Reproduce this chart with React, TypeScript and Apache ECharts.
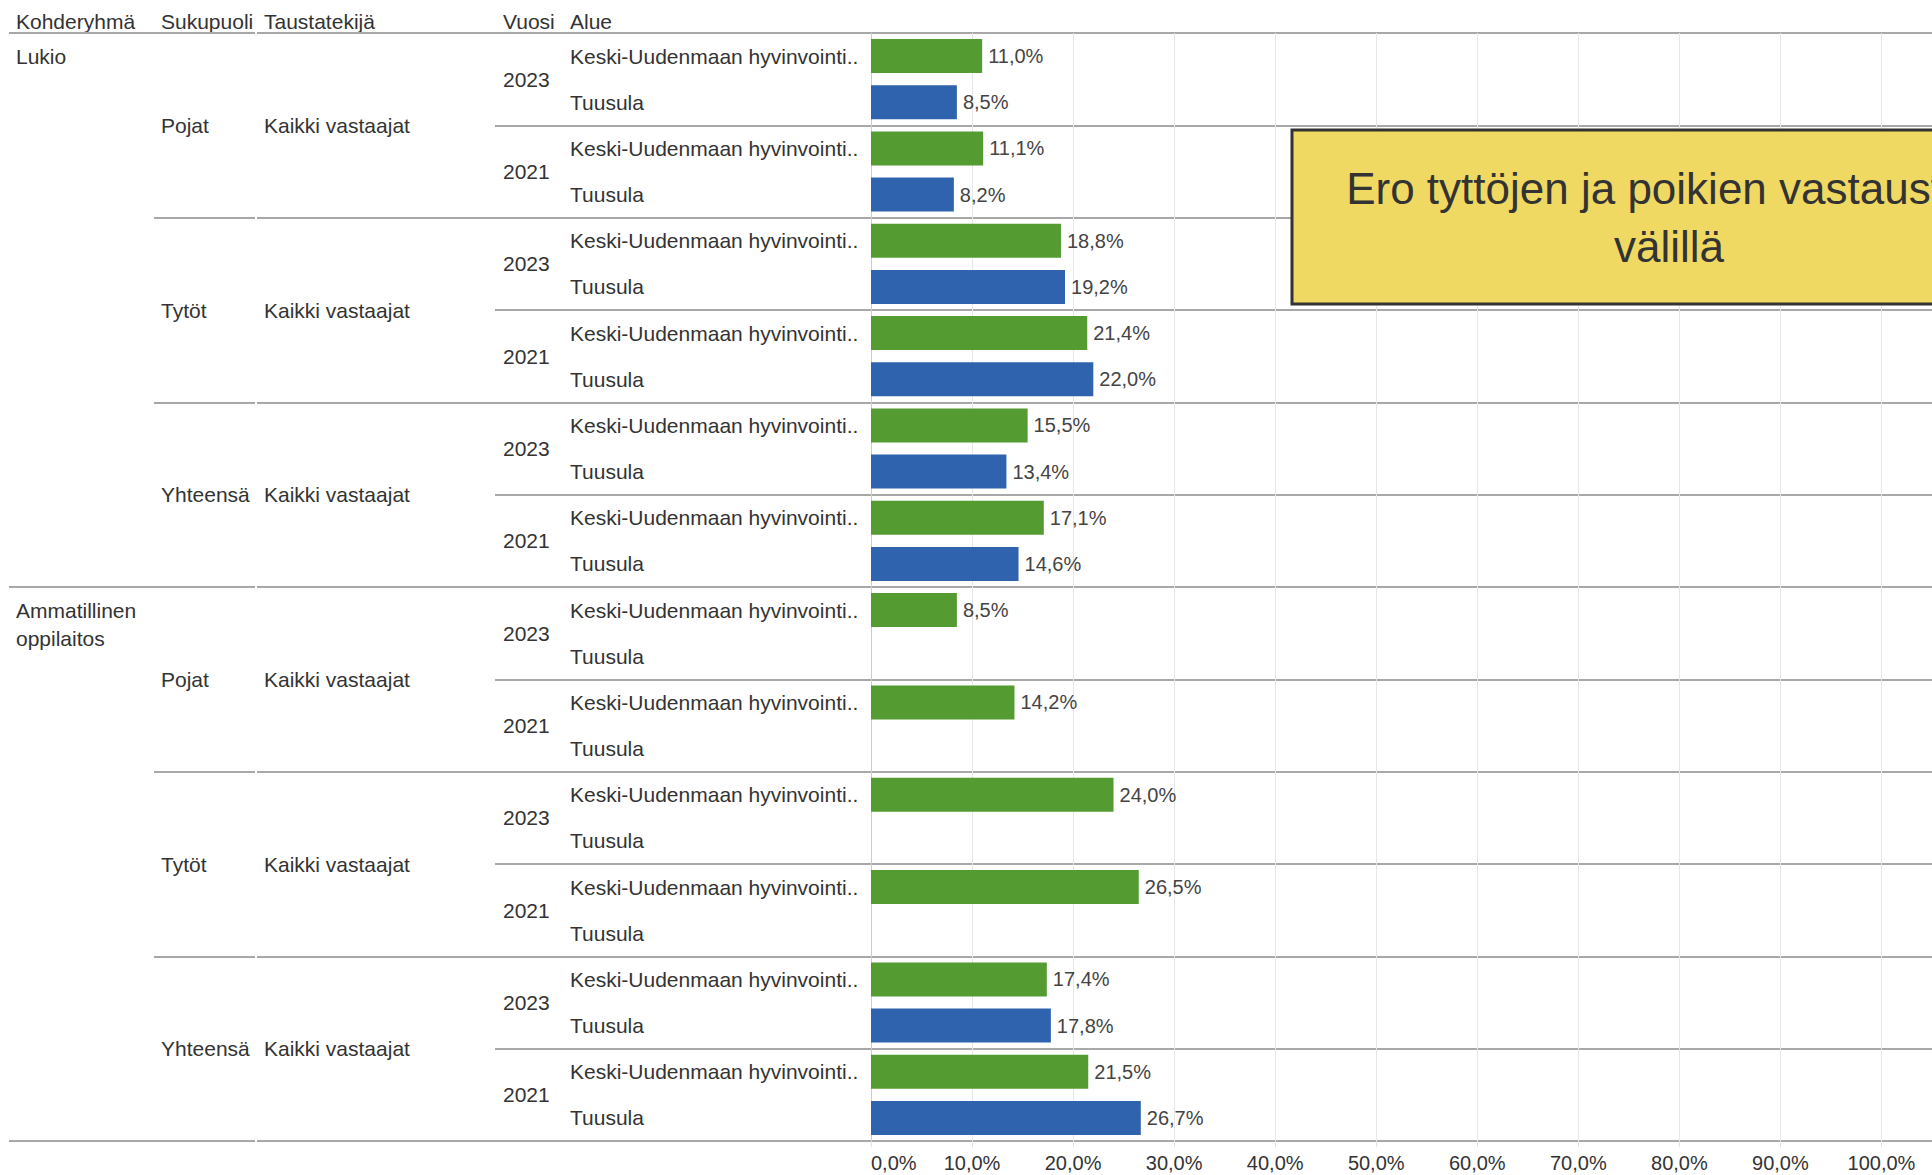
import React, { useEffect, useRef } from "react";
import * as echarts from "echarts";

// ---- Data ----
const groupLabels = ["Lukio", "Ammatillinen\noppilaitos"];
const genderLabels = ["Pojat", "Tytöt", "Yhteensä", "Pojat", "Tytöt", "Yhteensä"];
const backgroundLabels = ["Kaikki vastaajat", "Kaikki vastaajat", "Kaikki vastaajat", "Kaikki vastaajat", "Kaikki vastaajat", "Kaikki vastaajat"];
const yearLabels = ["2023", "2021", "2023", "2021", "2023", "2021", "2023", "2021", "2023", "2021", "2023", "2021"];
const areaLabels = ["Keski-Uudenmaan hyvinvointi..", "Tuusula"];
const headerLabels = ["Kohderyhmä", "Sukupuoli", "Taustatekijä", "Vuosi", "Alue"];
const keskiValues: (number | null)[] = [11.0, 11.1, 18.8, 21.4, 15.5, 17.1, 8.5, 14.2, 24.0, 26.5, 17.4, 21.5];
const tuusulaValues: (number | null)[] = [8.5, 8.2, 19.2, 22.0, 13.4, 14.6, null, null, null, null, 17.8, 26.7];
const titleText = "Ero tyttöjen ja poikien vastausten\nvälillä";

const FONT = "'Liberation Sans', Arial, sans-serif";
const TEXT = "#333333";
const SEP = "#a8a8a8";

export default function App() {
  const ref = useRef<HTMLDivElement>(null);
  useEffect(() => {
    if (!ref.current) return;
    const chart = echarts.init(ref.current, null, { renderer: "svg" });

    const rowCount = yearLabels.length * 2;
    const rowIds = Array.from({ length: rowCount }, (_, i) => "r" + i);
    const yearIds = yearLabels.map((_, i) => "y" + i);
    const genderIds = genderLabels.map((_, i) => "g" + i);
    const groupIds = groupLabels.map((_, i) => "k" + i);

    const keskiData = rowIds.map((_, i) => (i % 2 === 0 ? keskiValues[i / 2] : null));
    const tuusulaData = rowIds.map((_, i) => (i % 2 === 1 ? tuusulaValues[(i - 1) / 2] : null));

    const gridTop = 33;
    const gridBottom = 34;
    const plotLeft = 871;

    const pct = (v: number) => v.toFixed(1).replace(".", ",") + "%";

    const labelAxis = (data: string[], margin: number, formatter: (v: string, i: number) => string, extra: any = {}) => ({
      gridIndex: 0,
      type: "category",
      inverse: true,
      data,
      position: "left",
      axisLine: { show: false },
      axisTick: { show: false },
      splitLine: { show: false },
      axisLabel: {
        interval: 0,
        align: "left",
        margin,
        fontSize: 21,
        color: TEXT,
        fontFamily: FONT,
        formatter,
        ...extra,
      },
    });

    const sepGrids = [
      { left: 9, width: 246, data: groupIds },
      { left: 257, right: 0, data: groupIds },
      { left: 154, width: 101, data: genderIds },
      { left: 257, right: 0, data: genderIds },
      { left: 495, right: 0, data: yearIds },
    ];

    const grids: any[] = [
      { left: plotLeft, right: 0, top: gridTop, bottom: gridBottom, containLabel: false },
      ...sepGrids.map((g) => {
        const o: any = { left: g.left, top: gridTop, bottom: gridBottom };
        if (g.width !== undefined) o.width = g.width;
        if (g.right !== undefined) o.right = g.right;
        return o;
      }),
    ];

    const xAxes: any[] = [
      {
        gridIndex: 0,
        type: "value",
        min: 0,
        max: 105,
        interval: 10,
        axisLine: { show: false },
        axisTick: { show: true, length: 6, lineStyle: { color: "#e3e3e3" } },
        splitLine: { show: true, lineStyle: { color: "#e6e6e6", width: 1 } },
        axisLabel: {
          fontSize: 20,
          color: TEXT,
          fontFamily: FONT,
          margin: 12,
          alignMinLabel: "left",
          showMaxLabel: false,
          formatter: (v: number) => (v > 100 ? "" : pct(v)),
        },
      },
      ...sepGrids.map((_, i) => ({ gridIndex: i + 1, type: "value", show: false })),
    ];

    const yAxes: any[] = [
      {
        gridIndex: 0,
        type: "category",
        inverse: true,
        data: rowIds,
        position: "left",
        axisLine: { show: true, lineStyle: { color: "#cccccc", width: 1 } },
        axisTick: { show: false },
        splitLine: { show: false },
        axisLabel: {
          interval: 0,
          align: "left",
          margin: plotLeft - 570,
          fontSize: 21,
          color: TEXT,
          fontFamily: FONT,
          formatter: (_v: string, i: number) => areaLabels[i % 2],
        },
      },
      labelAxis(yearIds, plotLeft - 503, (_v, i) => yearLabels[i]),
      labelAxis(genderIds, plotLeft - 264, (_v, i) => backgroundLabels[i]),
      labelAxis(genderIds, plotLeft - 161, (_v, i) => genderLabels[i]),
      labelAxis(rowIds, plotLeft - 16, (_v, i) => (i % 12 === 0 ? (i === 0 ? groupLabels[0] : "\n" + groupLabels[1]) : ""), { lineHeight: 28 }),
      ...sepGrids.map((g, i) => ({
        gridIndex: i + 1,
        type: "category",
        inverse: true,
        data: g.data,
        axisLine: { show: false },
        axisTick: { show: false },
        axisLabel: { show: false },
        splitLine: { show: true, lineStyle: { color: SEP, width: 2 } },
      })),
    ];

    const barLabel = {
      show: true,
      position: "right",
      distance: 6,
      fontSize: 20,
      color: "#444444",
      fontFamily: FONT,
      formatter: (p: any) => (p.value == null ? "" : pct(p.value)),
    };

    const headerX = [16, 161, 264, 503, 570];

    chart.setOption({
      animation: false,
      backgroundColor: "#ffffff",
      textStyle: { fontFamily: FONT },
      grid: grids,
      xAxis: xAxes,
      yAxis: yAxes,
      series: [
        {
          name: "Keski-Uudenmaan hyvinvointialue",
          type: "bar",
          xAxisIndex: 0,
          yAxisIndex: 0,
          data: keskiData,
          barWidth: 34,
          barGap: "-100%",
          itemStyle: { color: "#549c32" },
          label: barLabel,
        },
        {
          name: "Tuusula",
          type: "bar",
          xAxisIndex: 0,
          yAxisIndex: 0,
          data: tuusulaData,
          barWidth: 34,
          barGap: "-100%",
          itemStyle: { color: "#3063ae" },
          label: barLabel,
        },
      ],
      graphic: [
        ...headerLabels.map((t, i) => ({
          type: "text",
          x: headerX[i],
          y: 21,
          style: { text: t, font: `21px ${FONT}`, fill: TEXT, align: "left", verticalAlign: "middle" },
        })),
        {
          type: "rect",
          shape: { x: 1292, y: 130, width: 760, height: 174 },
          style: { fill: "#f0d962", stroke: "#333333", lineWidth: 3 },
          z: 100,
        },
        {
          type: "text",
          x: 1669,
          y: 217,
          z: 101,
          style: {
            text: titleText,
            font: `44px ${FONT}`,
            fill: "#333333",
            align: "center",
            verticalAlign: "middle",
            lineHeight: 58,
          },
        },
      ],
    });

    return () => chart.dispose();
  }, []);

  return <div ref={ref} style={{ position: "absolute", left: 0, top: 0, width: 1932, height: 1175 }} />;
}
